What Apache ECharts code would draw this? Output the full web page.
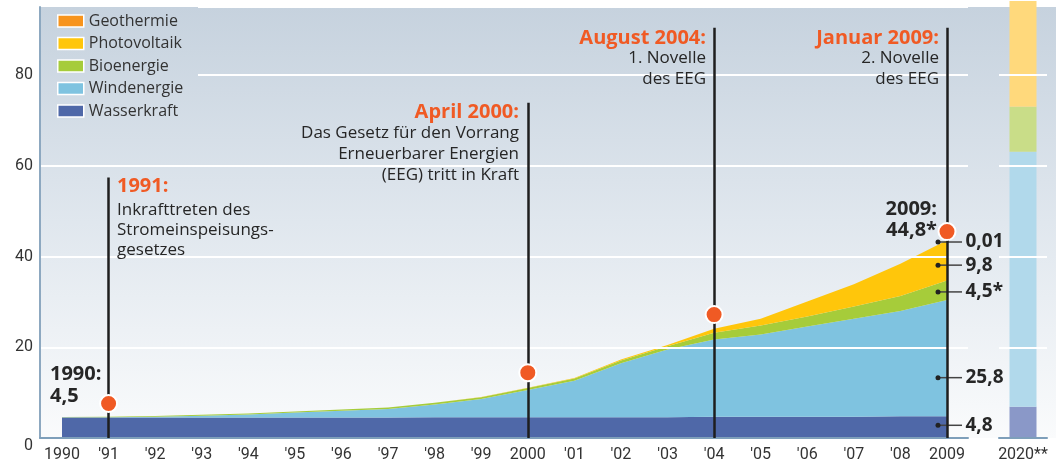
<!DOCTYPE html>
<html>
<head>
<meta charset="utf-8">
<script src="https://cdn.jsdelivr.net/npm/echarts@6/dist/echarts.min.js"></script>
<style>
  html, body { margin: 0; padding: 0; background: #fff; }
  #chart { width: 1056px; height: 464px; }
</style>
</head>
<body>
<div id="chart"></div>
<script>
// Jahre und Leistung (GW) je Energieträger
const years = ['1990', '1991', '1992', '1993', '1994', '1995', '1996', '1997', '1998', '1999',
  '2000', '2001', '2002', '2003', '2004', '2005', '2006', '2007', '2008', '2009'];
const wasserkraft = [4.5, 4.5, 4.5, 4.5, 4.5, 4.5, 4.5, 4.5, 4.6, 4.6, 4.6, 4.6, 4.6, 4.6, 4.7, 4.7, 4.7, 4.7, 4.8, 4.8];
const windenergie = [0.05, 0.1, 0.2, 0.4, 0.7, 1.1, 1.5, 1.9, 2.8, 4.0, 6.0, 8.0, 11.9, 14.9, 17.0, 18.1, 19.9, 21.6, 23.2, 25.6];
const bioenergie = [0.1, 0.1, 0.15, 0.2, 0.2, 0.25, 0.3, 0.3, 0.35, 0.4, 0.4, 0.5, 0.6, 0.7, 1.5, 2.0, 2.2, 2.7, 3.3, 4.3];
const photovoltaik = [0, 0, 0, 0, 0, 0, 0, 0, 0.02, 0.05, 0.1, 0.15, 0.2, 0.3, 0.9, 1.5, 3.3, 4.9, 7.1, 8.9];
const geothermie = [0, 0, 0, 0, 0, 0, 0, 0, 0, 0, 0, 0, 0, 0, 0, 0, 0, 0, 0, 0.01];

// Ziel 2020
const target = ['2020**'];
const target2020 = { Wasserkraft: 6.9, Windenergie: 56.2, Bioenergie: 9.9, Photovoltaik: 30 };

// Ereignisse: Jahr, Höhe der Linie, Lage des Punkts
const eventYears = ['1991', '2000', '2004', '2009'];
const eventLineTop = [57.4, 73.9, 90.4, 90.4];
const eventDot = [7.6, 14.4, 27.2, 45.5];

// Werte 2009 rechts
const segLabels = ['0,01', '9,8', '4,5*', '25,8', '4,8'];
const segY = [43.2, 38.1, 32.2, 13.3, 2.8];

const FONT = 'Roboto, "DejaVu Sans", sans-serif';
const TFONT = '"Open Sans", Roboto, sans-serif';
const ORANGE = '#f05a24';
const DARK = '#262626';
const colors = {
  Geothermie: '#f7941d', Photovoltaik: '#ffc60b', Bioenergie: '#a6cc3a',
  Windenergie: '#7fc3e0', Wasserkraft: '#4f68a8'
};
const pale = {
  Photovoltaik: '#ffd97c', Bioenergie: '#c9dd88', Windenergie: '#b1d9eb', Wasserkraft: '#8a98c8'
};
const bgStops = [
  { offset: 0, color: '#c6d2de' }, { offset: 0.5, color: '#e0e7ee' }, { offset: 1, color: '#fafbfc' }
];

const chart = echarts.init(document.getElementById('chart'));

const areaSeries = [
  ['Wasserkraft', wasserkraft], ['Windenergie', windenergie], ['Bioenergie', bioenergie],
  ['Photovoltaik', photovoltaik], ['Geothermie', geothermie]
].map(([name, data]) => ({
  name, type: 'line', xAxisIndex: 1, yAxisIndex: 1, stack: 'total',
  data, symbol: 'none', color: colors[name], lineStyle: { width: 0 },
  itemStyle: { color: colors[name] },
  areaStyle: { color: colors[name], opacity: 1 }, z: 2, silent: true
}));

const barSeries = ['Wasserkraft', 'Windenergie', 'Bioenergie', 'Photovoltaik'].map(name => ({
  name, type: 'bar', xAxisIndex: 2, yAxisIndex: 2, stack: 'ziel',
  data: [target2020[name]], barWidth: 27, itemStyle: { color: pale[name] }, z: 2, silent: true
}));

function txt(text, x, y, align, font, fill) {
  return {
    type: 'text', x, y, z: 20, silent: true,
    style: { text, font, fill, textAlign: align, textVerticalAlign: 'middle', align, verticalAlign: 'middle' }
  };
}
const head = 'bold 20px ' + TFONT;
const body = '17px ' + TFONT;
const texts = [
  txt('1991:', 117, 186, 'left', head, ORANGE),
  txt('Inkrafttreten des', 117, 210, 'left', body, DARK),
  txt('Stromeinspeisungs-', 117, 230, 'left', body, DARK),
  txt('gesetzes', 117, 250, 'left', body, DARK),
  txt('April 2000:', 519, 112, 'right', head, ORANGE),
  txt('Das Gesetz für den Vorrang', 519, 133, 'right', body, DARK),
  txt('Erneuerbarer Energien', 519, 154, 'right', body, DARK),
  txt('(EEG) tritt in Kraft', 519, 175, 'right', body, DARK),
  txt('August 2004:', 706, 38, 'right', head, ORANGE),
  txt('1. Novelle', 706, 58, 'right', body, DARK),
  txt('des EEG', 706, 79, 'right', body, DARK),
  txt('Januar 2009:', 939, 38, 'right', head, ORANGE),
  txt('2. Novelle', 939, 58, 'right', body, DARK),
  txt('des EEG', 939, 79, 'right', body, DARK),
  txt('1990:', 50, 374, 'left', head, DARK),
  txt('4,5', 50, 396, 'left', head, DARK),
  txt('2009:', 937, 209, 'right', head, DARK),
  txt('44,8*', 937, 230, 'right', head, DARK)
];

// Hintergrund der Zeichenfläche und Abdeckung hinter der Legende
const bg = {
  type: 'rect', z: -10, silent: true,
  shape: { x: 41, y: 7, width: 1015, height: 431 },
  style: { fill: new echarts.graphic.LinearGradient(0, 7, 0, 438, bgStops, true) }
};
const legendCover = {
  type: 'rect', z: 4, silent: true,
  shape: { x: 41, y: 7, width: 157, height: 118 },
  style: { fill: new echarts.graphic.LinearGradient(0, 7, 0, 438, bgStops, true) }
};

chart.setOption({
  animation: false,
  textStyle: { fontFamily: FONT },
  grid: [
    { left: 40, right: 88, top: 7, bottom: 26 },
    { left: 62, right: 109, top: 7, bottom: 26 },
    { left: 999, right: 9, top: 0, bottom: 26 }
  ],
  legend: {
    data: ['Geothermie', 'Photovoltaik', 'Bioenergie', 'Windenergie', 'Wasserkraft'],
    orient: 'vertical', left: 50, top: 8, itemWidth: 26, itemHeight: 12, itemGap: 6.5,
    padding: [5, 5, 5, 7], icon: 'rect', selectedMode: false, z: 6,
    itemStyle: { borderColor: '#fff', borderWidth: 1.5 },
    textStyle: { fontSize: 16, color: '#333', fontFamily: TFONT }
  },
  xAxis: [
    {
      gridIndex: 0, type: 'value', min: 0, max: 1, z: 4,
      axisLine: { show: true, lineStyle: { color: '#7e9fba', width: 2 } },
      axisTick: { show: false }, axisLabel: { show: false }, splitLine: { show: false }
    },
    {
      gridIndex: 1, type: 'category', data: years, boundaryGap: false,
      axisLine: { show: false }, axisTick: { show: false }, splitLine: { show: false },
      axisLabel: {
        interval: 0, margin: 9, fontSize: 16, color: '#333',
        formatter: v => (v === '1990' || v === '2000' || v === '2009') ? v : "'" + v.slice(2)
      }
    },
    {
      gridIndex: 2, type: 'category', data: target, z: 4,
      axisLine: { show: true, lineStyle: { color: '#7e9fba', width: 2 } },
      axisTick: { show: false }, axisLabel: { margin: 9, fontSize: 16, color: '#333' }
    }
  ],
  yAxis: [
    {
      gridIndex: 0, type: 'value', min: 0, max: 95, interval: 20, z: 3,
      axisLine: { show: true, lineStyle: { color: '#8da8c0', width: 2 } },
      axisTick: { show: false },
      axisLabel: {
        margin: 7, fontSize: 16, color: '#333', showMaxLabel: false,
        formatter: v => v === 0 ? '{z|0}' : String(v),
        rich: { z: { fontSize: 16, color: '#333', padding: [16, 0, 0, 0] } }
      },
      splitLine: { lineStyle: { color: '#ffffff', width: 2 } }
    },
    { gridIndex: 1, type: 'value', min: 0, max: 95, show: false },
    {
      gridIndex: 2, type: 'value', min: 0, max: 96.54, interval: 20, z: 3,
      axisLine: { show: false }, axisTick: { show: false }, axisLabel: { show: false },
      splitLine: { lineStyle: { color: '#ffffff', width: 2 } }
    }
  ],
  series: [
    ...areaSeries,
    ...barSeries,
    {
      type: 'scatter', xAxisIndex: 1, yAxisIndex: 1, data: [], z: 5, silent: true,
      markLine: {
        silent: true, symbol: ['none', 'none'], label: { show: false },
        lineStyle: { color: '#1e1e1e', width: 2.5, type: 'solid' },
        data: eventYears.map((y, i) => [{ coord: [y, 0] }, { coord: [y, eventLineTop[i]] }])
      }
    },
    {
      type: 'scatter', xAxisIndex: 1, yAxisIndex: 1, z: 6, silent: true,
      data: eventYears.map((y, i) => [y, eventDot[i]]),
      symbolSize: 17,
      itemStyle: { color: ORANGE, borderColor: '#fff', borderWidth: 2, opacity: 1 }
    },
    {
      type: 'scatter', xAxisIndex: 1, yAxisIndex: 1, z: 6, silent: true,
      data: segY.map(v => ['2009', v]),
      symbolSize: 5, symbolOffset: [-9, 0],
      itemStyle: { color: '#222', opacity: 1 },
      label: {
        show: true, position: 'right', distance: 25,
        formatter: p => segLabels[p.dataIndex],
        fontSize: 19, fontWeight: 'bold', color: DARK, fontFamily: TFONT
      }
    }
  ],
  graphic: [bg, legendCover, ...texts]
});

// Hinweislinien zu den Werten 2009
const leaders = segY.map(v => {
  const p = chart.convertToPixel({ xAxisIndex: 1, yAxisIndex: 1 }, ['2009', v]);
  return {
    type: 'line', z: 5, silent: true,
    shape: { x1: p[0] - 9, y1: p[1], x2: p[0] + 15, y2: p[1] },
    style: { stroke: '#444', lineWidth: 1.5 }
  };
});
chart.setOption({ graphic: [bg, legendCover, ...texts, ...leaders] });
</script>
</body>
</html>
